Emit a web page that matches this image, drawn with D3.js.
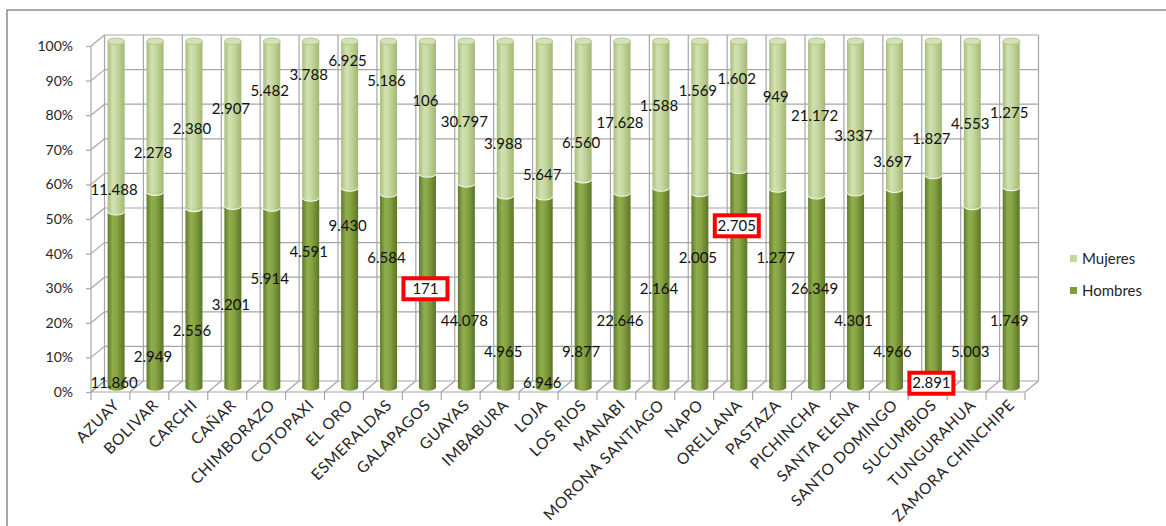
<!DOCTYPE html>
<html><head><meta charset="utf-8">
<script src="https://cdn.jsdelivr.net/npm/d3@7"></script>
<style>
html,body{margin:0;padding:0;background:#fff;}
svg{display:block;}
text{font-family:Lato,"Open Sans",sans-serif;}
</style></head><body>
<svg id="chart" width="1166" height="526"></svg>
<script>
// ---------- data ----------
const provinces = ["AZUAY","BOLIVAR","CARCHI","CAÑAR","CHIMBORAZO","COTOPAXI","EL ORO","ESMERALDAS","GALAPAGOS","GUAYAS","IMBABURA","LOJA","LOS RIOS","MANABI","MORONA SANTIAGO","NAPO","ORELLANA","PASTAZA","PICHINCHA","SANTA ELENA","SANTO DOMINGO","SUCUMBIOS","TUNGURAHUA","ZAMORA CHINCHIPE"];
const hombres = [11860,2949,2556,3201,5914,4591,9430,6584,171,44078,4965,6946,9877,22646,2164,2005,2705,1277,26349,4301,4966,2891,5003,1749];
const mujeres = [11488,2278,2380,2907,5482,3788,6925,5186,106,30797,3988,5647,6560,17628,1588,1569,1602,949,21172,3337,3697,1827,4553,1275];
const seriesKeys = ["Hombres","Mujeres"];
const legendKeys = ["Mujeres","Hombres"];
const yTickValues = [0,0.1,0.2,0.3,0.4,0.5,0.6,0.7,0.8,0.9,1];
const highlighted = ["GALAPAGOS","ORELLANA","SUCUMBIOS"];

// ---------- layout ----------
const svg = d3.select("#chart");
const frontL = 91, frontR = 1025, frontB = 392, frontT = 46;
const DX = 13.5, DY = -11;          // 3-D depth offset of the back wall
const barDepth = 0.42;              // cylinders sit in the middle of the depth
const R = 8.5, RY = 3.4;            // cylinder radius / ellipse height
const gridColor = "#a6a6a6";
const textColor = "#262626";

const rows = provinces.map((p,i)=>({province:p, Hombres:hombres[i], Mujeres:mujeres[i]}));
const stacked = d3.stack().keys(seriesKeys).offset(d3.stackOffsetExpand)(rows);

const x = d3.scaleBand().domain(provinces).range([frontL, frontR]).padding(0);
const y = d3.scaleLinear().domain([0,1]).range([frontB, frontT]);
const bw = x.bandwidth();
const cxOf = p => x(p) + bw/2 + DX*barDepth;
const cyOf = v => y(v) + DY*barDepth;
const fmt = d3.formatLocale({decimal:",", thousands:".", grouping:[3], currency:["",""]}).format(",d");
const colors = {Hombres:"#7e9c3f", Mujeres:"#c3d69b"};

// outer frame
svg.append("path").attr("d","M7,526V10H1166").attr("fill","none").attr("stroke","#8c8c8c").attr("stroke-width",1.5);

// gradients
const defs = svg.append("defs");
function grad(id, stops){
  const g = defs.append("linearGradient").attr("id",id).attr("x1","0%").attr("x2","100%").attr("y1","0%").attr("y2","0%");
  stops.forEach(([o,c])=>g.append("stop").attr("offset",o).attr("stop-color",c));
}
grad("gH", [["0%","#5f7a2a"],["30%","#8fae4c"],["55%","#86a444"],["100%","#5c7528"]]);
grad("gM", [["0%","#a7bd78"],["30%","#d2e1b3"],["55%","#c6d8a0"],["100%","#a2b873"]]);

// ---------- grid / walls ----------
const grid = svg.append("g").attr("stroke",gridColor).attr("stroke-width",1.2).attr("fill","none");
grid.selectAll(".hz").data(yTickValues).join("line")
  .attr("x1",frontL+DX).attr("x2",frontR+DX).attr("y1",d=>y(d)+DY).attr("y2",d=>y(d)+DY);
grid.selectAll(".lw").data(yTickValues).join("line").attr("class","lw")
  .attr("x1",frontL).attr("x2",frontL+DX).attr("y1",d=>y(d)).attr("y2",d=>y(d)+DY);
const bounds = d3.range(provinces.length+1).map(k=>frontL + k*bw);
grid.selectAll(".bv").data(bounds).join("line").attr("class","bv")
  .attr("x1",d=>d+DX).attr("x2",d=>d+DX).attr("y1",y(0)+DY).attr("y2",y(1)+DY);
grid.selectAll(".fd").data(bounds).join("line").attr("class","fd")
  .attr("x1",d=>d).attr("x2",d=>d+DX).attr("y1",y(0)).attr("y2",y(0)+DY);
grid.append("line").attr("x1",frontL).attr("x2",frontR).attr("y1",y(0)).attr("y2",y(0));
grid.append("line").attr("x1",frontL).attr("x2",frontL).attr("y1",y(0)).attr("y2",y(1));
grid.selectAll(".xt").data(bounds).join("line").attr("class","xt")
  .attr("x1",d=>d).attr("x2",d=>d).attr("y1",y(0)).attr("y2",y(0)+8);

// y axis
const yAxis = svg.append("g").attr("transform",`translate(${frontL},0)`)
  .call(d3.axisLeft(y).tickValues(yTickValues).tickFormat(d3.format(".0%")).tickSize(5).tickPadding(13));
yAxis.select(".domain").remove();
yAxis.selectAll("line").attr("stroke",gridColor).attr("stroke-width",1.2);
yAxis.selectAll("text").attr("font-family","Lato").attr("font-size",14).attr("fill",textColor);

// ---------- cylinders ----------
const bars = svg.append("g");
provinces.forEach((p,i)=>{
  const cx = cxOf(p);
  const h = stacked[0][i][1];
  const g = bars.append("g");
  g.append("rect").attr("x",cx-R).attr("width",2*R).attr("y",cyOf(h)).attr("height",cyOf(0)-cyOf(h)).attr("fill","url(#gH)");
  g.append("ellipse").attr("cx",cx).attr("cy",cyOf(0)).attr("rx",R).attr("ry",RY).attr("fill","url(#gH)");
  g.append("rect").attr("x",cx-R).attr("width",2*R).attr("y",cyOf(1)).attr("height",cyOf(h)-cyOf(1)).attr("fill","url(#gM)");
  g.append("path").attr("d",`M${cx-R},${cyOf(h)} A${R},${RY} 0 0 0 ${cx+R},${cyOf(h)} Z`).attr("fill","url(#gM)");
  g.append("path").attr("d",`M${cx-R},${cyOf(h)} A${R},${RY} 0 0 0 ${cx+R},${cyOf(h)}`).attr("fill","none").attr("stroke","#f4f8ea").attr("stroke-width",1.1);
  g.append("ellipse").attr("cx",cx).attr("cy",cyOf(1)).attr("rx",R).attr("ry",RY).attr("fill","#d3e2b5").attr("stroke","#a9bf7d").attr("stroke-width",0.8);
});

// ---------- data labels (staggered zig-zag like the original) ----------
const knots = {Hombres:[0,6,11,16,21,26], Mujeres:[0,6,11,16,20,25]};
function stagger(i, ks){
  for(let k=0;k<ks.length-1;k++){
    if(i>=ks[k] && i<=ks[k+1]){
      const f=(i-ks[k])/(ks[k+1]-ks[k]);
      return k%2===0 ? f : 1-f;
    }
  }
  return 0;
}
const labelLevel = {
  Hombres: (t,i) => 0.012 + 0.455*t,
  Mujeres: (t,i) => {
    const lo = 0.57 + 0.0041*i, hi = 0.975 - 0.0052*i;
    return lo + (hi-lo)*Math.pow(t,0.75);
  }
};
const labels = svg.append("g").attr("font-size",15).attr("fill","#111");
seriesKeys.forEach((key,si)=>{
  provinces.forEach((p,i)=>{
    const lx = cxOf(p) - 2;
    const ly = cyOf(labelLevel[key](stagger(i, knots[key]), i));
    if(key==="Hombres" && highlighted.includes(p)){
      labels.append("rect").attr("x",lx-22).attr("y",ly-10.5).attr("width",44).attr("height",21)
        .attr("fill","#fff").attr("stroke","#ff0000").attr("stroke-width",4);
    }
    labels.append("text").attr("x",lx).attr("y",ly).attr("dy","0.35em").attr("text-anchor","middle")
      .text(fmt(stacked[si][i].data[key]));
  });
});

// ---------- category labels ----------
svg.append("g").selectAll("text").data(provinces).join("text")
  .attr("transform",d=>`translate(${x(d)+bw/2+10},${406}) rotate(-45)`)
  .attr("text-anchor","end").attr("font-size",15.5).attr("letter-spacing","0.7px").attr("fill",textColor)
  .text(d=>d);

// ---------- legend ----------
const lg = svg.append("g").attr("transform","translate(1070,255)");
legendKeys.forEach((k,i)=>{
  lg.append("rect").attr("x",0).attr("y",i*32).attr("width",7).attr("height",7).attr("fill",colors[k]);
  lg.append("text").attr("x",12).attr("y",i*32+4).attr("dy","0.35em").attr("font-size",15).attr("fill",textColor).text(k);
});
</script>
</body></html>
